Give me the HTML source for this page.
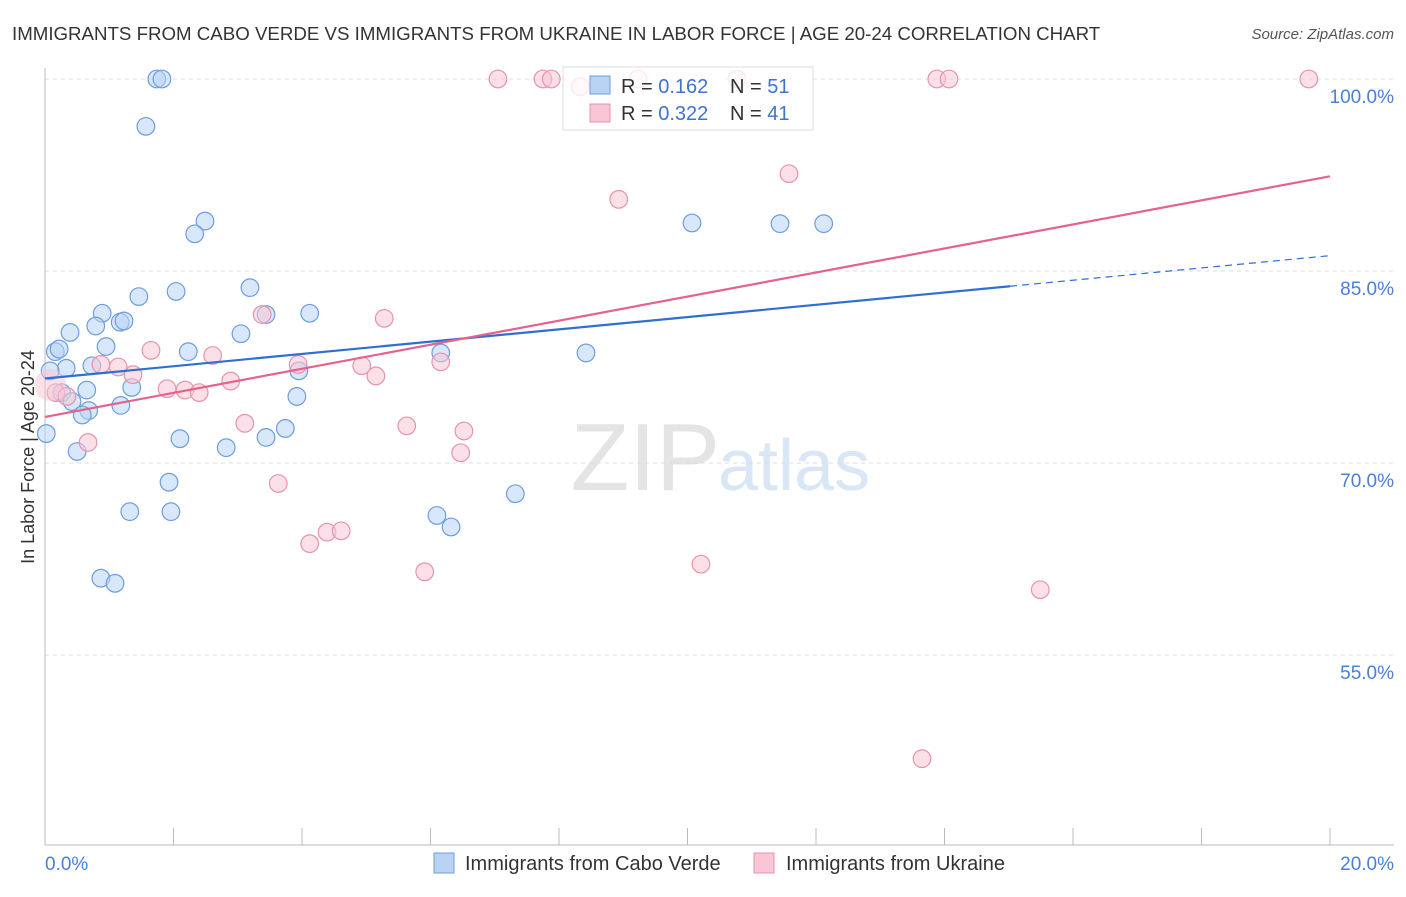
<!DOCTYPE html>
<html><head><meta charset="utf-8"><style>
body{margin:0;background:#fff;font-family:"Liberation Sans",sans-serif;}
svg text{font-family:"Liberation Sans",sans-serif;}
</style></head><body>
<svg id="c" width="1406" height="892">
<text x="12" y="40" font-size="18.7" fill="#333">IMMIGRANTS FROM CABO VERDE VS IMMIGRANTS FROM UKRAINE IN LABOR FORCE | AGE 20-24 CORRELATION CHART</text>
<text x="1394" y="39" font-size="15" fill="#555" font-style="italic" text-anchor="end">Source: ZipAtlas.com</text>
<text x="720" y="490" font-size="96" fill="#e4e4e4" text-anchor="end" font-family="Liberation Serif">ZIP</text>
<text x="718" y="490" font-size="72" fill="#d8e6f6">atlas</text>
<g id="grid"></g><g id="axes"></g>
<g id="pts"></g><g id="lines"></g>
<g>
<rect x="563" y="67" width="250" height="63" fill="#fff" fill-opacity="0.8" stroke="#ddd"/>
<rect x="590" y="76" width="20" height="18" fill="#b8d3f4" stroke="#6d9de0"/>
<rect x="590" y="104" width="20" height="18" fill="#f8c6d4" stroke="#e693ae"/>
<text x="621" y="93" font-size="20" fill="#333">R = <tspan fill="#3f73d0">0.162</tspan></text>
<text x="730" y="93" font-size="20" fill="#333">N = <tspan fill="#3f73d0">51</tspan></text>
<text x="621" y="120" font-size="20" fill="#333">R = <tspan fill="#3f73d0">0.322</tspan></text>
<text x="730" y="120" font-size="20" fill="#333">N = <tspan fill="#3f73d0">41</tspan></text>
</g>
<text transform="translate(34,457) rotate(-90)" font-size="18" fill="#333" text-anchor="middle">In Labor Force | Age 20-24</text>
<text x="45" y="870" font-size="19" fill="#4a7fd6">0.0%</text>
<text x="1394" y="870" font-size="19" fill="#4a7fd6" text-anchor="end">20.0%</text>
<g>
<rect x="434" y="853" width="20" height="20" fill="#b8d3f4" stroke="#6d9de0"/>
<text x="465" y="870" font-size="20" fill="#333">Immigrants from Cabo Verde</text>
<rect x="754" y="853" width="20" height="20" fill="#f8c6d4" stroke="#e693ae"/>
<text x="786" y="870" font-size="20" fill="#333">Immigrants from Ukraine</text>
</g>
</svg>
<script>
const yTicks=[100,85,70,55];
const yTickLabels=["100.0%","85.0%","70.0%","55.0%"];
const xTicks=[0,2,4,6,8,10,12,14,16,18,20];
const blueX=[1.74,1.82,1.57,2.49,2.33,10.07,11.44,12.12,1.46,2.04,3.19,0.89,3.44,4.12,0.79,1.17,1.23,0.39,3.05,0.16,0.22,0.95,2.23,6.16,8.42,0.33,0.73,0.08,3.95,1.35,0.65,0.26,3.92,0.42,1.18,0.68,0.58,2.10,3.44,3.74,0.02,2.82,0.50,1.93,7.32,1.32,1.96,6.10,6.32,0.87,1.09];
const blueY=[100,100,96.3,88.9,87.9,88.75,88.7,88.7,83.0,83.4,83.7,81.7,81.6,81.7,80.7,81.0,81.1,80.2,80.1,78.7,78.9,79.1,78.7,78.6,78.6,77.4,77.6,77.2,77.2,75.9,75.7,75.5,75.2,74.8,74.5,74.1,73.75,71.9,72.0,72.7,72.3,71.2,70.9,68.5,67.6,66.2,66.2,65.9,65.0,61.0,60.6];
const pinkX=[7.05,7.75,7.88,8.33,9.23,10.77,13.88,14.07,19.67,11.58,8.93,3.38,5.28,1.65,2.61,0.87,1.14,1.37,3.94,4.93,5.15,6.16,2.89,1.90,2.18,2.40,0.17,0.34,5.63,6.52,3.11,6.47,0.67,3.63,4.39,4.61,4.12,5.91,10.21,15.49,13.65];
const pinkY=[100,100,100,99.4,100,100,100,100,100,92.6,90.6,81.6,81.3,78.8,78.4,77.7,77.5,76.9,77.7,77.6,76.8,77.9,76.4,75.8,75.7,75.5,75.5,75.2,72.9,72.5,73.1,70.8,71.6,68.4,64.6,64.7,63.7,61.5,62.1,60.1,46.9];
const blueTrend=[76.6,0.48];
const pinkTrend=[73.6,0.94];
const X=v=>45+v*64.25, Y=v=>79+(100-v)*12.8;
const NS="http://www.w3.org/2000/svg";
function mk(t,a,p){const e=document.createElementNS(NS,t);for(const k in a)e.setAttribute(k,a[k]);document.getElementById(p).appendChild(e);return e;}
yTicks.forEach((t,i)=>{
 const l=mk('line',{x1:45,x2:1394,y1:Y(t),y2:Y(t),stroke:'#ddd','stroke-dasharray':'4,4'},'grid');
 
 
 const tx=mk('text',{x:1394,y:Y(t)+24,'font-size':19,fill:'#4a7fd6','text-anchor':'end'},'grid');
 tx.textContent=yTickLabels[i];
 
 
});
const ya=mk('line',{x1:45,x2:45,y1:68,y2:845,stroke:'#bbb'},'axes');


const xa=mk('line',{x1:45,x2:1394,y1:845,y2:845,stroke:'#bbb'},'axes');


xTicks.forEach(t=>{
 const l=mk('line',{x1:X(t),x2:X(t),y1:828,y2:845,stroke:'#bbb'},'axes');
 
 
});
function pts(xs,ys,fill,stroke,name){xs.forEach((x,i)=>{
 const c=mk('circle',{cx:X(x),cy:Y(ys[i]),r:8.8,fill:fill,'fill-opacity':0.55,stroke:stroke,'stroke-width':1.2},'pts');
 
 
});}
pts(blueX,blueY,'#b8d3f4','#6d9de0','point-cabo-verde');
pts(pinkX,pinkY,'#f8c6d4','#e693ae','point-ukraine');
const big=mk('circle',{cx:X(0.08),cy:Y(76.1),r:16,fill:'#f8c6d4','fill-opacity':0.5,stroke:'none'},'pts');


const b1=mk('line',{x1:X(0),y1:Y(blueTrend[0]),x2:X(15.02),y2:Y(blueTrend[0]+blueTrend[1]*15.02),stroke:'#2f6fd3','stroke-width':2.2},'lines');


const b2=mk('line',{x1:X(15.02),y1:Y(blueTrend[0]+blueTrend[1]*15.02),x2:X(20),y2:Y(blueTrend[0]+blueTrend[1]*20),stroke:'#2f6fd3','stroke-width':1.2,'stroke-dasharray':'7,5'},'lines');


const p1=mk('line',{x1:X(0),y1:Y(pinkTrend[0]),x2:X(20),y2:Y(pinkTrend[0]+pinkTrend[1]*20),stroke:'#e5628f','stroke-width':2.2},'lines');


</script>
</body></html>
